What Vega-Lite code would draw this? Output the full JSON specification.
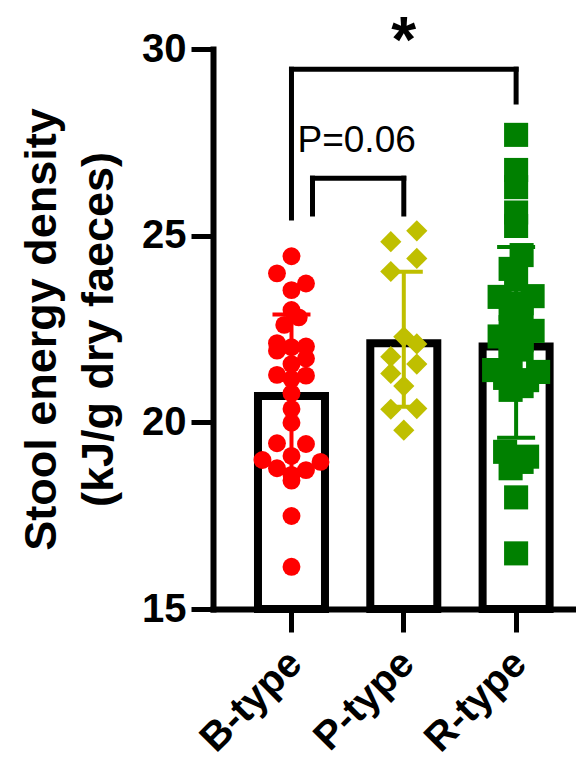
{
  "$schema": "https://vega.github.io/schema/vega-lite/v6.json",
  "width": 363,
  "height": 560,
  "autosize": {"type": "none"},
  "padding": {"left": 213, "top": 49, "right": 0, "bottom": 152},
  "background": "white",
  "config": {
    "view": {"stroke": null},
    "font": "Liberation Sans",
    "axis": {"grid": false, "domainColor": "black", "tickColor": "black", "labelColor": "black", "titleColor": "black"}
  },
  "datasets": {
    "stool": [
      {"group": "B-type", "value": 24.45}, {"group": "B-type", "value": 23.99}, {"group": "B-type", "value": 23.72},
      {"group": "B-type", "value": 23.54}, {"group": "B-type", "value": 23.01}, {"group": "B-type", "value": 22.81},
      {"group": "B-type", "value": 22.61}, {"group": "B-type", "value": 22.01}, {"group": "B-type", "value": 21.92},
      {"group": "B-type", "value": 22.03}, {"group": "B-type", "value": 22.12}, {"group": "B-type", "value": 21.71},
      {"group": "B-type", "value": 21.56}, {"group": "B-type", "value": 21.27}, {"group": "B-type", "value": 21.16},
      {"group": "B-type", "value": 21.25}, {"group": "B-type", "value": 20.78}, {"group": "B-type", "value": 20.36},
      {"group": "B-type", "value": 19.99}, {"group": "B-type", "value": 19.44}, {"group": "B-type", "value": 19.42},
      {"group": "B-type", "value": 18.94}, {"group": "B-type", "value": 18.99}, {"group": "B-type", "value": 19.10},
      {"group": "B-type", "value": 18.72}, {"group": "B-type", "value": 18.77}, {"group": "B-type", "value": 18.59},
      {"group": "B-type", "value": 18.44}, {"group": "B-type", "value": 17.49}, {"group": "B-type", "value": 16.13},
      {"group": "P-type", "value": 25.13}, {"group": "P-type", "value": 24.84}, {"group": "P-type", "value": 24.39},
      {"group": "P-type", "value": 24.04}, {"group": "P-type", "value": 22.29}, {"group": "P-type", "value": 22.10},
      {"group": "P-type", "value": 21.76}, {"group": "P-type", "value": 21.56}, {"group": "P-type", "value": 21.31},
      {"group": "P-type", "value": 20.97}, {"group": "P-type", "value": 20.37}, {"group": "P-type", "value": 20.35},
      {"group": "P-type", "value": 19.79},
      {"group": "R-type", "value": 27.70}, {"group": "R-type", "value": 26.76}, {"group": "R-type", "value": 26.30},
      {"group": "R-type", "value": 25.62}, {"group": "R-type", "value": 25.26}, {"group": "R-type", "value": 24.48},
      {"group": "R-type", "value": 24.11}, {"group": "R-type", "value": 23.84}, {"group": "R-type", "value": 23.36},
      {"group": "R-type", "value": 23.38}, {"group": "R-type", "value": 23.19}, {"group": "R-type", "value": 22.96},
      {"group": "R-type", "value": 23.04}, {"group": "R-type", "value": 22.45}, {"group": "R-type", "value": 22.55},
      {"group": "R-type", "value": 22.20}, {"group": "R-type", "value": 22.05}, {"group": "R-type", "value": 22.30},
      {"group": "R-type", "value": 21.95}, {"group": "R-type", "value": 21.75}, {"group": "R-type", "value": 21.40},
      {"group": "R-type", "value": 21.35}, {"group": "R-type", "value": 21.11}, {"group": "R-type", "value": 21.19},
      {"group": "R-type", "value": 21.13}, {"group": "R-type", "value": 20.87}, {"group": "R-type", "value": 20.97},
      {"group": "R-type", "value": 19.04}, {"group": "R-type", "value": 19.21}, {"group": "R-type", "value": 19.08},
      {"group": "R-type", "value": 18.94}, {"group": "R-type", "value": 18.77}, {"group": "R-type", "value": 17.99},
      {"group": "R-type", "value": 16.49}
    ]
  },
  "layer": [
    {
      "data": {"name": "stool"},
      "transform": [
        {"aggregate": [{"op": "mean", "field": "value", "as": "mean"}, {"op": "stdev", "field": "value", "as": "sd"}], "groupby": ["group"]},
        {"calculate": "datum.mean - datum.sd", "as": "low"},
        {"calculate": "datum.mean + datum.sd", "as": "high"}
      ],
      "layer": [
        {
          "mark": {"type": "bar", "size": 67, "fill": "white", "stroke": "black", "strokeWidth": 8, "yOffset": 4},
          "encoding": {
            "x": {
              "field": "group", "type": "nominal",
              "scale": {"domain": ["B-type", "P-type", "R-type"], "paddingInner": 0.4, "paddingOuter": 0.316, "align": 0.631},
              "axis": {
                "title": null,
                "domainWidth": 6, "domainCap": "square",
                "tickWidth": 5, "tickSize": 23,
                "labelAngle": -45, "labelAlign": "right", "labelBaseline": "middle",
                "labelFont": "Liberation Sans", "labelFontWeight": "bold", "labelFontSize": 40,
                "labelPadding": 25, "labelOffset": 4, "labelOverlap": false
              }
            },
            "y": {
              "field": "mean", "type": "quantitative",
              "scale": {"domain": [15, 30], "nice": false, "zero": false},
              "axis": {
                "values": [15, 20, 25, 30],
                "domainWidth": 6, "domainCap": "square",
                "tickWidth": 5, "tickSize": 22,
                "labelFont": "Liberation Sans", "labelFontWeight": "bold", "labelFontSize": 40,
                "labelPadding": 5,
                "title": ["Stool energy density", "(kJ/g dry faeces)"],
                "titleFont": "Liberation Sans", "titleFontWeight": "bold", "titleFontSize": 45,
                "titleLineHeight": 57, "titlePadding": 20
              }
            },
            "y2": {"datum": 15}
          }
        },
        {
          "mark": {"type": "rule", "strokeWidth": 4},
          "encoding": {
            "x": {"field": "group", "type": "nominal"},
            "y": {"field": "low", "type": "quantitative"},
            "y2": {"field": "high"},
            "color": {"field": "group", "type": "nominal", "legend": null,
              "scale": {"domain": ["B-type", "P-type", "R-type"], "range": ["#ff0000", "#bfbf00", "#008000"]}}
          }
        },
        {
          "mark": {"type": "tick", "size": 38, "thickness": 4, "opacity": 1},
          "encoding": {
            "x": {"field": "group", "type": "nominal"},
            "y": {"field": "low", "type": "quantitative"},
            "color": {"field": "group", "type": "nominal", "legend": null}
          }
        },
        {
          "mark": {"type": "tick", "size": 38, "thickness": 4, "opacity": 1},
          "encoding": {
            "x": {"field": "group", "type": "nominal"},
            "y": {"field": "high", "type": "quantitative"},
            "color": {"field": "group", "type": "nominal", "legend": null}
          }
        }
      ]
    },
    {
      "data": {"name": "stool"},
      "transform": [
        {"calculate": "datum.group === 'P-type' ? 0.6 : 0.5", "as": "binStep"},
        {"calculate": "floor(datum.value / datum.binStep)", "as": "level"},
        {"window": [{"op": "row_number", "as": "rank"}], "groupby": ["group", "level"], "sort": [{"field": "value", "order": "ascending"}]},
        {"joinaggregate": [{"op": "count", "as": "levelCount"}], "groupby": ["group", "level"]},
        {"calculate": "(datum.rank % 2 === 0 ? datum.rank / 2 : -(datum.rank - 1) / 2) - (datum.levelCount % 2 === 0 ? 0.5 : 0)", "as": "lane"},
        {"calculate": "datum.lane * (datum.group === 'B-type' ? 14.5 : datum.group === 'P-type' ? 26 : 11)", "as": "spread"}
      ],
      "mark": {"type": "point", "filled": true, "opacity": 1, "strokeWidth": 0},
      "encoding": {
        "x": {"field": "group", "type": "nominal"},
        "xOffset": {"field": "spread", "type": "quantitative", "scale": {"domain": [-45, 45], "range": [-11.31, 78.69]}},
        "y": {"field": "value", "type": "quantitative"},
        "color": {"field": "group", "type": "nominal", "legend": null},
        "shape": {
          "field": "group", "type": "nominal", "legend": null,
          "scale": {"domain": ["B-type", "P-type", "R-type"], "range": ["circle", "diamond", "square"]}
        },
        "size": {
          "field": "group", "type": "ordinal", "legend": null,
          "scale": {"domain": ["B-type", "P-type", "R-type"], "range": [320, 580, 324]}
        }
      }
    },
    {
      "data": {"values": [{"from": "B-type", "to": "R-type", "top": 29.46, "fromFoot": 25.47, "toFoot": 28.58}]},
      "layer": [
        {
          "mark": {"type": "rule", "color": "black", "strokeWidth": 5, "strokeCap": "square"},
          "encoding": {
            "x": {"field": "from", "type": "nominal"},
            "x2": {"field": "to"},
            "y": {"field": "top", "type": "quantitative"}
          }
        },
        {
          "mark": {"type": "rule", "color": "black", "strokeWidth": 5, "strokeCap": "square"},
          "encoding": {
            "x": {"field": "from", "type": "nominal"},
            "y": {"field": "top", "type": "quantitative"},
            "y2": {"field": "fromFoot"}
          }
        },
        {
          "mark": {"type": "rule", "color": "black", "strokeWidth": 5, "strokeCap": "square"},
          "encoding": {
            "x": {"field": "to", "type": "nominal"},
            "y": {"field": "top", "type": "quantitative"},
            "y2": {"field": "toFoot"}
          }
        }
      ]
    },
    {
      "data": {"values": [{"from": "B-type", "to": "P-type", "top": 26.54, "fromFoot": 25.58, "toFoot": 25.58}]},
      "layer": [
        {
          "mark": {"type": "rule", "color": "black", "strokeWidth": 5, "strokeCap": "square", "xOffset": 21},
          "encoding": {
            "x": {"field": "from", "type": "nominal"},
            "x2": {"field": "to"},
            "y": {"field": "top", "type": "quantitative"}
          }
        },
        {
          "mark": {"type": "rule", "color": "black", "strokeWidth": 5, "strokeCap": "square", "xOffset": 21},
          "encoding": {
            "x": {"field": "from", "type": "nominal"},
            "y": {"field": "top", "type": "quantitative"},
            "y2": {"field": "fromFoot"}
          }
        },
        {
          "mark": {"type": "rule", "color": "black", "strokeWidth": 5, "strokeCap": "square"},
          "encoding": {
            "x": {"field": "to", "type": "nominal"},
            "y": {"field": "top", "type": "quantitative"},
            "y2": {"field": "toFoot"}
          }
        }
      ]
    },
    {
      "data": {"values": [{"group": "P-type", "value": 29.65, "label": "*"}]},
      "mark": {"type": "text", "font": "Liberation Sans", "fontWeight": "bold", "fontSize": 64, "align": "center", "baseline": "alphabetic", "color": "black"},
      "encoding": {
        "x": {"field": "group", "type": "nominal"},
        "y": {"field": "value", "type": "quantitative"},
        "text": {"field": "label"}
      }
    },
    {
      "data": {"values": [{"group": "B-type", "value": 27.24, "label": "P=0.06"}]},
      "mark": {"type": "text", "font": "Liberation Sans", "fontSize": 37, "align": "left", "baseline": "alphabetic", "dx": 6, "color": "black"},
      "encoding": {
        "x": {"field": "group", "type": "nominal"},
        "y": {"field": "value", "type": "quantitative"},
        "text": {"field": "label"}
      }
    }
  ]
}
